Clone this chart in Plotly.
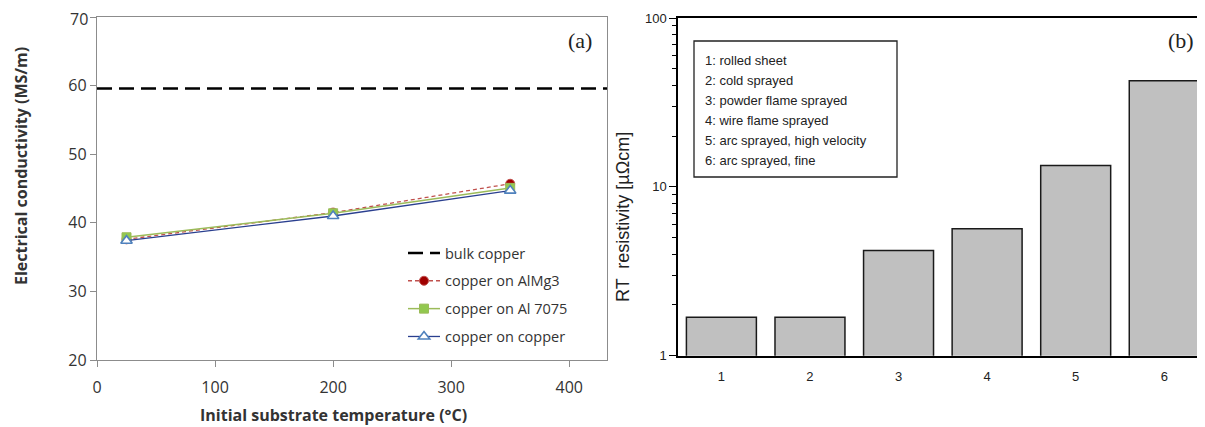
import plotly.graph_objects as go

# ---- Panel (a) data ----
temps = [25, 200, 350]
almg3 = [37.6, 41.5, 45.7]
al7075 = [37.9, 41.4, 45.1]
cu_on_cu = [37.4, 41.0, 44.7]
bulk_x = [0, 432]
bulk_copper = [59.6, 59.6]
series_names = ["bulk copper", "copper on AlMg3", "copper on Al 7075", "copper on copper"]
temp_ticks = [0, 100, 200, 300, 400]
cond_ticks = [20, 30, 40, 50, 60, 70]

# ---- Panel (b) data ----
samples = [1, 2, 3, 4, 5, 6]
resistivity = [1.69, 1.69, 4.2, 5.65, 13.4, 42.5]
sample_labels = ["1: rolled sheet", "2: cold sprayed", "3: powder flame sprayed",
                 "4: wire flame sprayed", "5: arc sprayed, high velocity", "6: arc sprayed, fine"]

OFF = 8  # page body margin
W, H = 1205 - OFF, 427 - OFF
def px(x):
    return (x - OFF) / W
def py(y):
    return (H - (y - OFF)) / H

fig = go.Figure()

fig.add_trace(go.Scatter(x=bulk_x, y=bulk_copper, mode="lines", name=series_names[0],
                         line=dict(color="black", width=2.5, dash="15px,7px"),
                         legendgroup="g0", xaxis="x", yaxis="y"))
fig.add_trace(go.Scatter(x=temps, y=almg3, mode="lines+markers", name=series_names[1],
                         line=dict(color="#C0504D", width=1.3, dash="4px,3px"),
                         marker=dict(symbol="circle", size=9, color="#A00000",
                                     line=dict(color="#C0504D", width=1)),
                         legendgroup="g1", xaxis="x", yaxis="y"))
fig.add_trace(go.Scatter(x=temps, y=al7075, mode="lines+markers", name=series_names[2],
                         line=dict(color="#9BBB59", width=1.5),
                         marker=dict(symbol="square", size=9, color="#92C84F",
                                     line=dict(color="#9BBB59", width=1)),
                         legendgroup="g2", xaxis="x", yaxis="y"))
fig.add_trace(go.Scatter(x=temps, y=cu_on_cu, mode="lines+markers", name=series_names[3],
                         line=dict(color="#2A3F8F", width=1.3),
                         marker=dict(symbol="triangle-up", size=10, color="white",
                                     line=dict(color="#4F81BD", width=1.6)),
                         legendgroup="g3", xaxis="x", yaxis="y"))

fig.add_trace(go.Bar(x=samples, y=resistivity, width=0.79, showlegend=False,
                     marker=dict(color="#C0C0C0", line=dict(color="#1a1a1a", width=1.5)),
                     xaxis="x2", yaxis="y2"))

gray = "#8C8C8C"
left_font = dict(family="Open Sans", size=16, color="#333333")
# the top tick label sits at the very edge of the page; it is drawn as an annotation
cond_text = [str(v) for v in cond_ticks[:-1]] + [""]
fig.update_layout(
    width=W, height=H,
    margin=dict(l=0, r=0, t=0, b=0, autoexpand=False),
    paper_bgcolor="white", plot_bgcolor="white",
    showlegend=True,
    legend=dict(x=px(403), y=py(237), xanchor="left", yanchor="top",
                bgcolor="rgba(0,0,0,0)", font=dict(family="Open Sans", size=14.5, color="#333333"),
                tracegroupgap=6, itemwidth=32),
    xaxis=dict(domain=[px(97), px(607)], range=[0, 432], tickmode="array",
               tickvals=temp_ticks, showline=True, linecolor=gray, linewidth=1.3,
               mirror=True, ticks="outside", ticklen=6, tickcolor=gray, showgrid=False,
               zeroline=False, tickfont=left_font, anchor="y", automargin=False,
               ticklabelstandoff=7),
    yaxis=dict(domain=[py(360), py(17)], range=[20, 70.02], tickmode="array",
               tickvals=cond_ticks, ticktext=cond_text, showline=True,
               linecolor=gray, linewidth=1.3, mirror=True, ticks="outside", ticklen=6,
               tickcolor=gray, showgrid=False, zeroline=False, tickfont=left_font, anchor="x",
               automargin=False),
    xaxis2=dict(domain=[px(678), 1.0], range=[0.51, 6.46], tickmode="array",
                tickvals=samples, ticktext=[str(s) for s in samples], showline=True,
                linecolor="black", linewidth=2, mirror=True, ticks="", showgrid=False,
                zeroline=False, tickfont=dict(family="Liberation Sans", size=13, color="#222222"),
                ticklabelstandoff=8, anchor="y2", automargin=False),
    yaxis2=dict(domain=[py(355.7), py(18)], type="log", range=[0, 2], tickmode="array",
                tickvals=[1, 10, 100], ticktext=["1", "10", "100"], showline=True,
                linecolor="black", linewidth=1.5, ticks="outside", ticklen=7, tickcolor="black",
                tickwidth=1.2, showgrid=False, zeroline=False,
                minor=dict(ticks="outside", ticklen=4, tickcolor="black", tickwidth=1,
                           tickvals=[2, 3, 4, 5, 6, 7, 8, 9, 20, 30, 40, 50, 60, 70, 80, 90]),
                tickfont=dict(family="Liberation Sans", size=13, color="#222222"), anchor="x2",
                automargin=False),
    bargap=0.21,
)

def ann(text, x, y, font, xanchor="center", angle=0):
    return dict(text=text, x=px(x), y=py(y), xref="paper", yref="paper", showarrow=False,
                xanchor=xanchor, yanchor="middle", textangle=angle, font=font)

annotations = [
    dict(text=str(cond_ticks[-1]), x=px(89), y=cond_ticks[-1], xref="paper", yref="y",
         xanchor="right", yanchor="middle", yshift=-2, borderpad=0, showarrow=False,
         font=left_font),
    ann("<b>Electrical conductivity (MS/m)</b>", 21, 166,
        dict(family="Open Sans", size=16, color="#333333"), angle=-90),
    ann("<b>Initial substrate temperature (°C)</b>", 333, 415,
        dict(family="Open Sans", size=16, color="#333333")),
    ann("(a)", 580, 41, dict(family="Liberation Serif", size=22, color="#222222")),
    ann("(b)", 1181, 41, dict(family="Liberation Serif", size=22, color="#222222")),
    ann("RT  resistivity [µΩcm]", 623, 217,
        dict(family="Liberation Sans", size=18, color="#222222"), angle=-90),
]
for i, lab in enumerate(sample_labels):
    annotations.append(ann(lab, 703, 60 + 20 * i,
                           dict(family="Liberation Sans", size=13, color="#222222"),
                           xanchor="left"))
fig.update_layout(annotations=annotations)

fig.add_shape(type="rect", xref="paper", yref="paper", x0=px(694), x1=px(897),
              y0=py(177), y1=py(41), line=dict(color="#222222", width=1.3),
              fillcolor="rgba(0,0,0,0)")

fig.write_html("out.html")
